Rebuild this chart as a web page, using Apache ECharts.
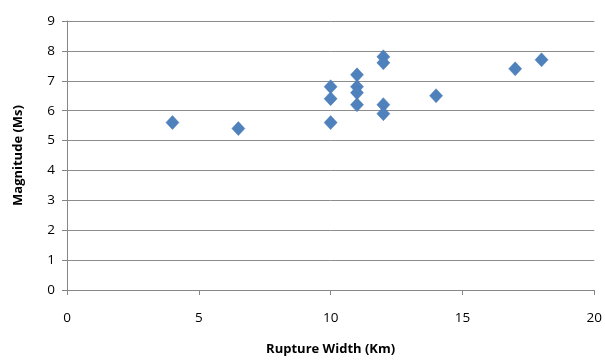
<!DOCTYPE html>
<html>
<head>
<meta charset="utf-8">
<script src="https://cdn.jsdelivr.net/npm/echarts@6/dist/echarts.min.js"></script>
<style>
  html, body { margin: 0; padding: 0; background: #fff; }
  #main { width: 605px; height: 361px; }
</style>
</head>
<body>
<div id="main"></div>
<script>
  // rupture width (km) and magnitude (Ms)
  var widthKm = [4, 6.5, 10, 10, 10, 11, 11, 11, 11, 12, 12, 12, 12, 14, 17, 18];
  var magnitude = [5.6, 5.4, 6.8, 6.4, 5.6, 7.2, 6.8, 6.6, 6.2, 7.8, 7.6, 6.2, 5.9, 6.5, 7.4, 7.7];
  var xTicks = [0, 5, 10, 15, 20];
  var yTicks = [0, 1, 2, 3, 4, 5, 6, 7, 8, 9];

  var points = widthKm.map(function (w, i) { return [w, magnitude[i]]; });

  var chart = echarts.init(document.getElementById('main'), null, { renderer: 'canvas' });
  var font = 'Open Sans, Liberation Sans, sans-serif';

  chart.setOption({
    animation: false,
    backgroundColor: '#ffffff',
    grid: { left: 67, right: 8, top: 21, bottom: 69 },
    xAxis: {
      type: 'value',
      min: xTicks[0],
      max: xTicks[xTicks.length - 1],
      interval: 5,
      name: 'Rupture Width (Km)',
      nameLocation: 'middle',
      nameGap: 53,
      nameTextStyle: { fontFamily: font, fontWeight: 'bold', fontSize: 13, color: '#000' },
      axisLine: { lineStyle: { color: '#868686', width: 1 } },
      axisTick: { show: true, length: 5, lineStyle: { color: '#868686' } },
      axisLabel: { fontFamily: font, fontSize: 13.5, color: '#000', margin: 21 },
      splitLine: { show: false }
    },
    yAxis: {
      type: 'value',
      min: yTicks[0],
      max: yTicks[yTicks.length - 1],
      interval: 1,
      name: 'Magnitude (Ms)',
      nameLocation: 'middle',
      nameGap: 42,
      nameTextStyle: { fontFamily: font, fontWeight: 'bold', fontSize: 13, color: '#000' },
      axisLine: { show: true, lineStyle: { color: '#868686', width: 1 } },
      axisTick: { show: true, length: 5, lineStyle: { color: '#868686' } },
      axisLabel: { fontFamily: font, fontSize: 13.5, color: '#000', margin: 12 },
      splitLine: { show: true, lineStyle: { color: '#8c8c8c', width: 1 } }
    },
    series: [{
      type: 'scatter',
      data: points,
      symbol: 'diamond',
      symbolSize: [13, 14],
      itemStyle: { color: '#4f81bd', borderColor: '#4a7ab5', borderWidth: 0.5, opacity: 1 }
    }]
  });
</script>
</body>
</html>
